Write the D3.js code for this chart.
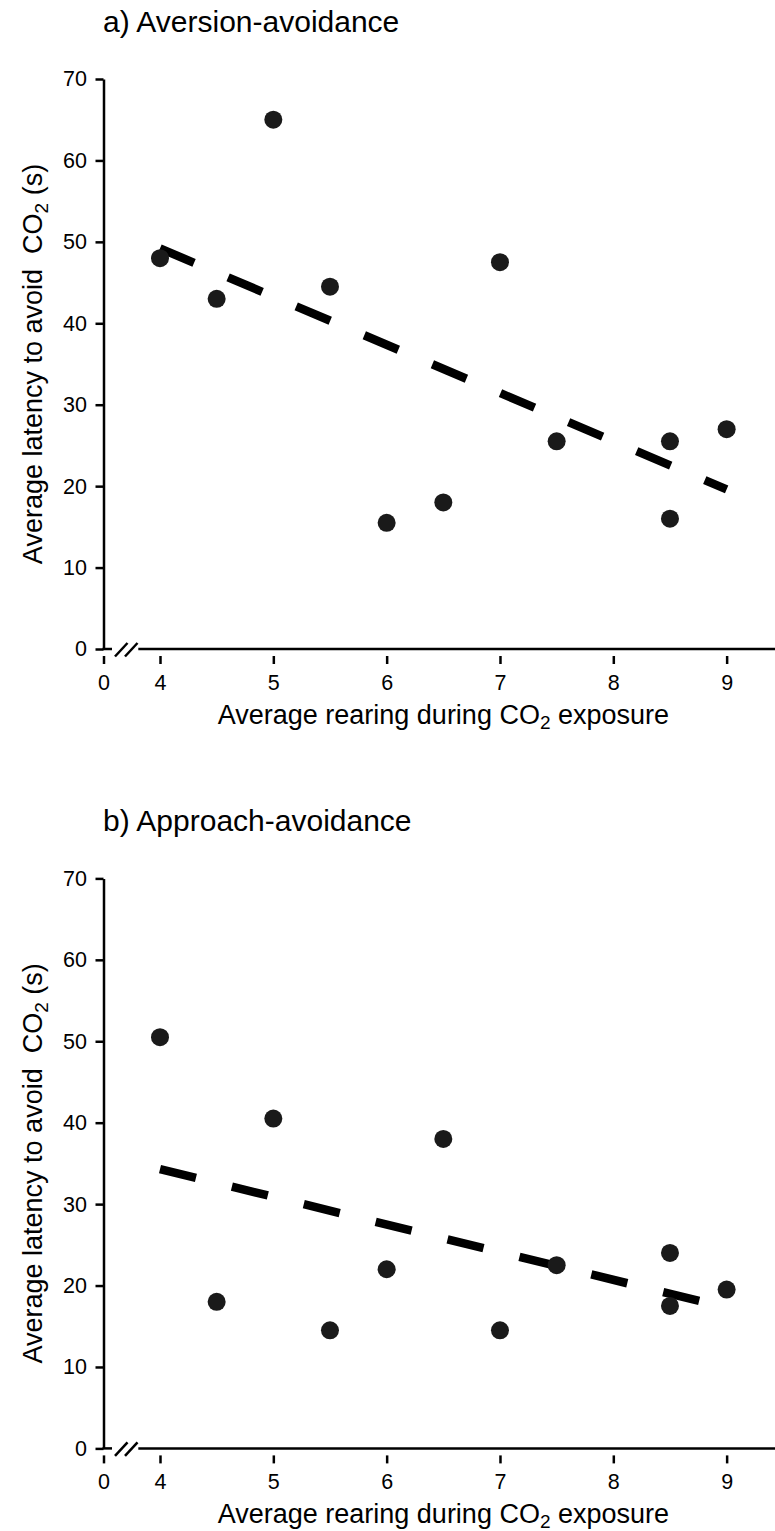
<!DOCTYPE html>
<html>
<head>
<meta charset="utf-8">
<script src="https://cdn.jsdelivr.net/npm/d3@7"></script>
<style>
  body { margin: 0; background: #fff; }
  text { font-family: "Liberation Sans", Arial, sans-serif; fill: #000; }
</style>
</head>
<body>
<div id="chart"></div>
<script>
// data
const rearing = [4, 4.5, 5, 5.5, 6, 6.5, 7, 7.5, 8.5, 8.5, 9];
const latencyAversion = [48, 43, 65, 44.5, 15.5, 18, 47.5, 25.5, 25.5, 16, 27];
const latencyApproach = [50.5, 18, 40.5, 14.5, 22, 38, 14.5, 22.5, 24, 17.5, 19.5];
// fitted lines (end points as drawn)
const trendAversion = [[4, 49.2], [9, 19.6]];
const trendApproach = [[4, 34.3], [9, 17.3]];
const panelTitles = ['a) Aversion-avoidance', 'b) Approach-avoidance'];
const xTicks = [0, 4, 5, 6, 7, 8, 9];
const yTicks = [0, 10, 20, 30, 40, 50, 60, 70];

const width = 775, height = 1531;
const panelStep = 799.4;

const svg = d3.select('#chart').append('svg')
    .attr('width', width)
    .attr('height', height);

// broken x scale: 0 sits just right of the y axis, real range starts at 4
const xScale = d3.scaleLinear()
    .domain([0, 4, 9.5])
    .range([103.5, 160, 783.3]);

const yScale = d3.scaleLinear()
    .domain([0, 70])
    .range([649, 79]);

const panels = [
    {title: panelTitles[0], y: latencyAversion, trend: trendAversion},
    {title: panelTitles[1], y: latencyApproach, trend: trendApproach}
];

panels.forEach((p, i) => drawPanel(p, i));

function drawPanel(p, i) {
    const g = svg.append('g')
        .attr('transform', 'translate(0,' + (i * panelStep) + ')');

    const y0 = yScale(0), x0 = xScale(0);

    // title
    g.append('text')
        .attr('x', 103)
        .attr('y', 32)
        .attr('font-size', 30)
        .text(p.title);

    // y axis
    const yAxis = d3.axisLeft(yScale)
        .tickValues(yTicks)
        .tickSize(8)
        .tickSizeOuter(0)
        .tickPadding(8.5);

    const yAxisGroup = g.append('g')
        .attr('transform', 'translate(' + x0 + ',0)')
        .call(yAxis);
    yAxisGroup.selectAll('path, line')
        .attr('stroke', '#000')
        .attr('stroke-width', 2.5);
    yAxisGroup.selectAll('text')
        .attr('font-size', 21.5)
        .attr('font-family', '"Liberation Sans", Arial, sans-serif');

    // x axis: ticks hang below the axis line
    const xAxis = d3.axisBottom(xScale)
        .tickValues(xTicks)
        .tickSize(8)
        .tickPadding(10.5);

    const xAxisGroup = g.append('g')
        .attr('transform', 'translate(0,' + (y0 + 7) + ')')
        .call(xAxis);
    xAxisGroup.select('.domain').remove();
    xAxisGroup.selectAll('line')
        .attr('stroke', '#000')
        .attr('stroke-width', 2.5);
    xAxisGroup.selectAll('text')
        .attr('font-size', 21.5)
        .attr('font-family', '"Liberation Sans", Arial, sans-serif');

    // x axis line with the // break
    const axisStyle = sel => sel.attr('stroke', '#000').attr('stroke-width', 2.5).attr('fill', 'none');
    g.append('line').call(axisStyle)
        .attr('x1', x0 - 1).attr('x2', x0 + 8.5)
        .attr('y1', y0).attr('y2', y0);
    g.append('line').call(axisStyle)
        .attr('x1', x0 + 34.8).attr('x2', width)
        .attr('y1', y0).attr('y2', y0);
    [11.5, 21.5].forEach(off => {
        g.append('line').call(axisStyle)
            .attr('x1', x0 + off).attr('y1', y0 + 7.5)
            .attr('x2', x0 + off + 12.5).attr('y2', y0 - 6);
    });

    // axis titles
    const xLabel = g.append('text')
        .attr('x', (xScale.range()[0] + xScale.range()[2]) / 2)
        .attr('y', 724)
        .attr('text-anchor', 'middle')
        .attr('font-size', 27)
        .style('white-space', 'pre');
    xLabel.append('tspan').text('Average rearing during CO');
    xLabel.append('tspan').attr('font-size', 19).attr('dy', 5).text('2');
    xLabel.append('tspan').attr('dy', -5).text(' exposure');

    const yLabel = g.append('text')
        .attr('transform', 'translate(41.5,' + ((yScale(0) + yScale(70)) / 2) + ') rotate(-90)')
        .attr('text-anchor', 'middle')
        .attr('font-size', 27)
        .style('white-space', 'pre');
    yLabel.append('tspan').text('Average latency to avoid  CO');
    yLabel.append('tspan').attr('font-size', 19).attr('dy', 6).text('2');
    yLabel.append('tspan').attr('dy', -6).text(' (s)');

    // dashed regression line
    const line = d3.line()
        .x(d => xScale(d[0]))
        .y(d => yScale(d[1]));

    g.append('path')
        .datum(p.trend)
        .attr('d', line)
        .attr('fill', 'none')
        .attr('stroke', '#000')
        .attr('stroke-width', 8.5)
        .attr('stroke-dasharray', '37 37');

    // points
    g.selectAll('.dot')
        .data(rearing.map((x, k) => [x, p.y[k]]))
        .enter()
        .append('circle')
        .attr('class', 'dot')
        .attr('cx', d => xScale(d[0]))
        .attr('cy', d => yScale(d[1]))
        .attr('r', 9)
        .attr('fill', '#1a1a1a');
}
</script>
</body>
</html>
